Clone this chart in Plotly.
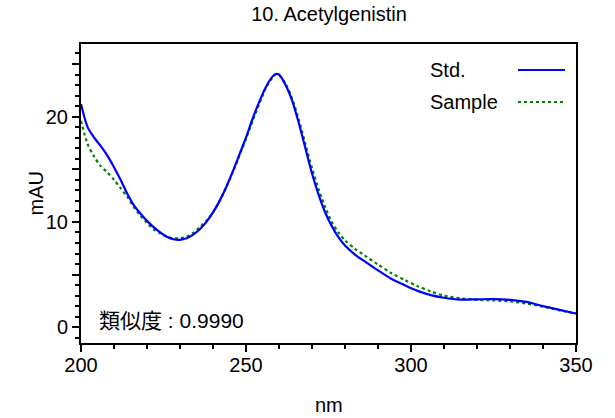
import plotly.graph_objects as go

title_text = "10. Acetylgenistin"
similarity_text = "類似度 : 0.9990"
x_title = "nm"
y_title = "mAU"

std_nm = [200, 202, 204, 206, 208, 210, 212, 214, 216, 218, 220, 222, 224, 226, 228, 230,
          232, 234, 236, 238, 240, 242, 244, 246, 248, 250, 252, 254, 256, 258, 259, 260,
          262, 264, 266, 268, 270, 272, 274, 276, 278, 280, 283, 286, 290, 294, 298, 302,
          306, 310, 315, 320, 325, 330, 335, 340, 345, 350]
std_mau = [21.2, 19.0, 18.0, 17.2, 16.3, 15.2, 14.0, 12.7, 11.6, 10.8, 10.1, 9.5, 9.0, 8.6, 8.35, 8.3,
           8.45, 8.8, 9.3, 10.0, 10.9, 12.0, 13.3, 14.8, 16.4, 18.0, 19.8, 21.4, 22.8, 23.8, 24.05, 24.0,
           23.0, 21.5, 19.4, 17.0, 14.6, 12.6, 10.9, 9.6, 8.55, 7.75, 6.9, 6.25, 5.4, 4.6, 4.0, 3.45,
           3.05, 2.8, 2.62, 2.65, 2.67, 2.6, 2.4, 2.0, 1.65, 1.3]

sample_nm = std_nm
sample_mau = [19.6, 17.4, 16.2, 15.3, 14.7, 14.0, 13.2, 12.4, 11.4, 10.6, 9.9, 9.3, 8.9, 8.6, 8.45, 8.45,
              8.6, 8.95, 9.5, 10.1, 10.9, 12.0, 13.3, 14.7, 16.3, 17.9, 19.6, 21.2, 22.7, 23.7, 24.0, 23.95,
              23.1, 21.7, 19.7, 17.4, 15.1, 13.1, 11.4, 10.0, 9.0, 8.25, 7.45, 6.8, 5.95, 5.15, 4.5, 3.9,
              3.4, 3.0, 2.75, 2.6, 2.55, 2.45, 2.25, 1.95, 1.6, 1.3]

y_tickvals = [0, 5, 10, 15, 20, 25]
y_ticktext = ["0", "", "10", "", "20", ""]
x_tickvals = [200, 250, 300, 350]

BLUE = "#0000ff"
GREEN = "#008000"
FONT = "Liberation Sans, Arial, Noto Sans CJK JP, sans-serif"

fig = go.Figure()
fig.add_trace(go.Scatter(x=sample_nm, y=sample_mau, mode="lines", name="Sample",
                         line=dict(color=GREEN, width=2.2, dash="dot", shape="spline", smoothing=0.8),
                         showlegend=False))
fig.add_trace(go.Scatter(x=std_nm, y=std_mau, mode="lines", name="Std.",
                         line=dict(color=BLUE, width=2.2, shape="spline", smoothing=0.8),
                         showlegend=False))

fig.update_layout(
    width=615, height=418,
    margin=dict(l=81, r=39, t=44, b=75),
    paper_bgcolor="white", plot_bgcolor="white",
    font=dict(family=FONT, size=20, color="black"),
    title=dict(text=title_text, x=0.535, xanchor="center", y=1 - 14 / 418, yanchor="middle",
               yref="container", font=dict(size=20)),
)

fig.update_xaxes(
    range=[200, 350], tickvals=x_tickvals, ticks="outside", ticklen=7, tickwidth=2,
    tickcolor="black", showline=True, linecolor="black", linewidth=2, mirror=True,
    showgrid=False, zeroline=False, ticklabelstandoff=-4, automargin=False,
    minor=dict(ticks="outside", tickmode="linear", tick0=200, dtick=10, ticklen=4,
               tickwidth=2, tickcolor="black", showgrid=False),
)
fig.update_yaxes(
    range=[-1.5, 26.9], tickvals=y_tickvals, ticktext=y_ticktext, ticks="outside", ticklen=7,
    tickwidth=2, tickcolor="black", showline=True, linecolor="black", linewidth=2, mirror=True,
    showgrid=False, zeroline=False, automargin=False,
    minor=dict(ticks="outside", tickmode="linear", tick0=0, dtick=1, ticklen=4,
               tickwidth=2, tickcolor="black", showgrid=False),
)

# axis titles
fig.add_annotation(x=0.5, y=-(405 - 343) / 299, xref="paper", yref="paper", text=x_title,
                   showarrow=False, xanchor="center", yanchor="middle", font=dict(size=20))
fig.add_annotation(x=-(81 - 35) / 495, y=0.5, xref="paper", yref="paper", text=y_title,
                   showarrow=False, xanchor="center", yanchor="middle", textangle=-90,
                   font=dict(size=20))

# legend drawn on the right of its labels, as in the reference
leg_x_text = (428 - 81) / 495
leg_x0 = (518 - 81) / 495
leg_x1 = (565 - 81) / 495
leg_rows = [("Std.", BLUE, "solid", (343 - 70) / 299), ("Sample", GREEN, "dot", (343 - 102) / 299)]
for label, color, dash, yy in leg_rows:
    fig.add_annotation(x=leg_x_text, y=yy, xref="paper", yref="paper", text=label,
                       showarrow=False, xanchor="left", yanchor="middle",
                       font=dict(size=20))
    fig.add_shape(type="line", xref="paper", yref="paper", x0=leg_x0, x1=leg_x1, y0=yy, y1=yy,
                  line=dict(color=color, width=2.2, dash=dash))

fig.add_annotation(x=(97 - 81) / 495, y=(343 - 320) / 299, xref="paper", yref="paper",
                   text=similarity_text, showarrow=False, xanchor="left", yanchor="middle",
                   font=dict(size=21))

fig.write_html("out.html")
